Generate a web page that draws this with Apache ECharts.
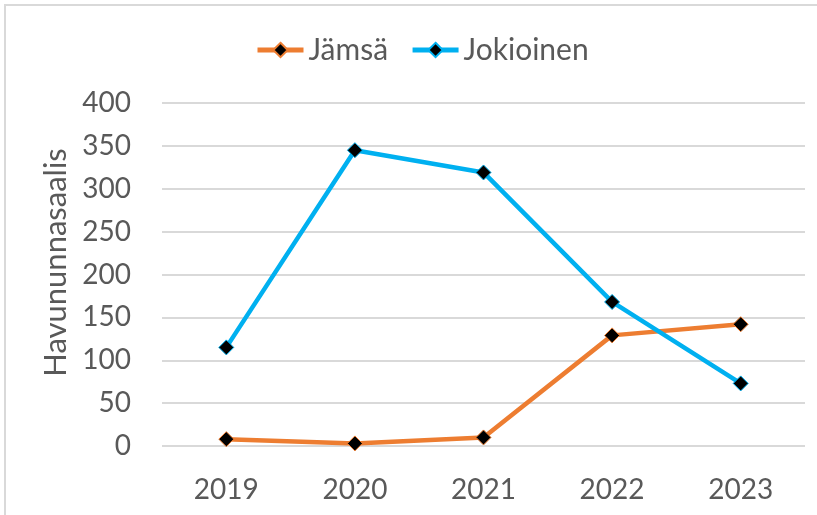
<!DOCTYPE html>
<html><head><meta charset="utf-8">
<script src="https://cdn.jsdelivr.net/npm/echarts@6/dist/echarts.min.js"></script>
<style>html,body{margin:0;padding:0;background:#fff}#c{width:817px;height:515px}</style>
</head><body><div id="c"></div>
<script>
const categories = ['2019','2020','2021','2022','2023'];
const jamsa = [8, 3, 10, 129, 142];
const jokioinen = [115, 345, 319, 168, 73];
const yTicks = {min: 0, max: 400, interval: 50};
const yName = 'Havununnasaalis';

const FONT = 'Lato';
const TXT = '#595959';
const chart = echarts.init(document.getElementById('c'), null, {renderer: 'canvas'});
function ser(name, data, col) {
  return {
    name, type: 'line', data,
    symbol: 'diamond', symbolSize: 15,
    lineStyle: {color: col, width: 4.5},
    itemStyle: {color: '#000', borderColor: col, borderWidth: 1},
    color: col,
    emphasis: {disabled: true}
  };
}
chart.setOption({
  animation: false,
  backgroundColor: '#fff',
  graphic: [{type: 'rect', shape: {x: 5, y: 5, width: 900, height: 700}, style: {fill: 'none', stroke: '#d9d9d9', lineWidth: 2}}],
  legend: {
    top: 30, left: 250,
    itemWidth: 46, itemHeight: 18, itemGap: 22,
    lineStyle: {width: 5},
    textStyle: {fontFamily: FONT, fontSize: 30, color: TXT},
    data: ['Jämsä', 'Jokioinen']
  },
  grid: {left: 162, right: 12, top: 103, bottom: 69},
  xAxis: {
    type: 'category', data: categories, boundaryGap: true,
    axisLine: {show: false}, axisTick: {show: false},
    axisLabel: {fontFamily: FONT, fontSize: 28, color: TXT, margin: 30}
  },
  yAxis: {
    type: 'value', min: yTicks.min, max: yTicks.max, interval: yTicks.interval,
    name: yName, nameLocation: 'middle', nameGap: 88,
    nameTextStyle: {fontFamily: FONT, fontSize: 31, color: TXT, padding: [0, 0, 0, 24]},
    axisLine: {show: false}, axisTick: {show: false},
    axisLabel: {fontFamily: FONT, fontSize: 28, color: TXT, margin: 31},
    splitLine: {lineStyle: {color: '#d9d9d9', width: 2}}
  },
  series: [ser('Jämsä', jamsa, '#ED7D31'), ser('Jokioinen', jokioinen, '#00B0F0')]
});
</script></body></html>
